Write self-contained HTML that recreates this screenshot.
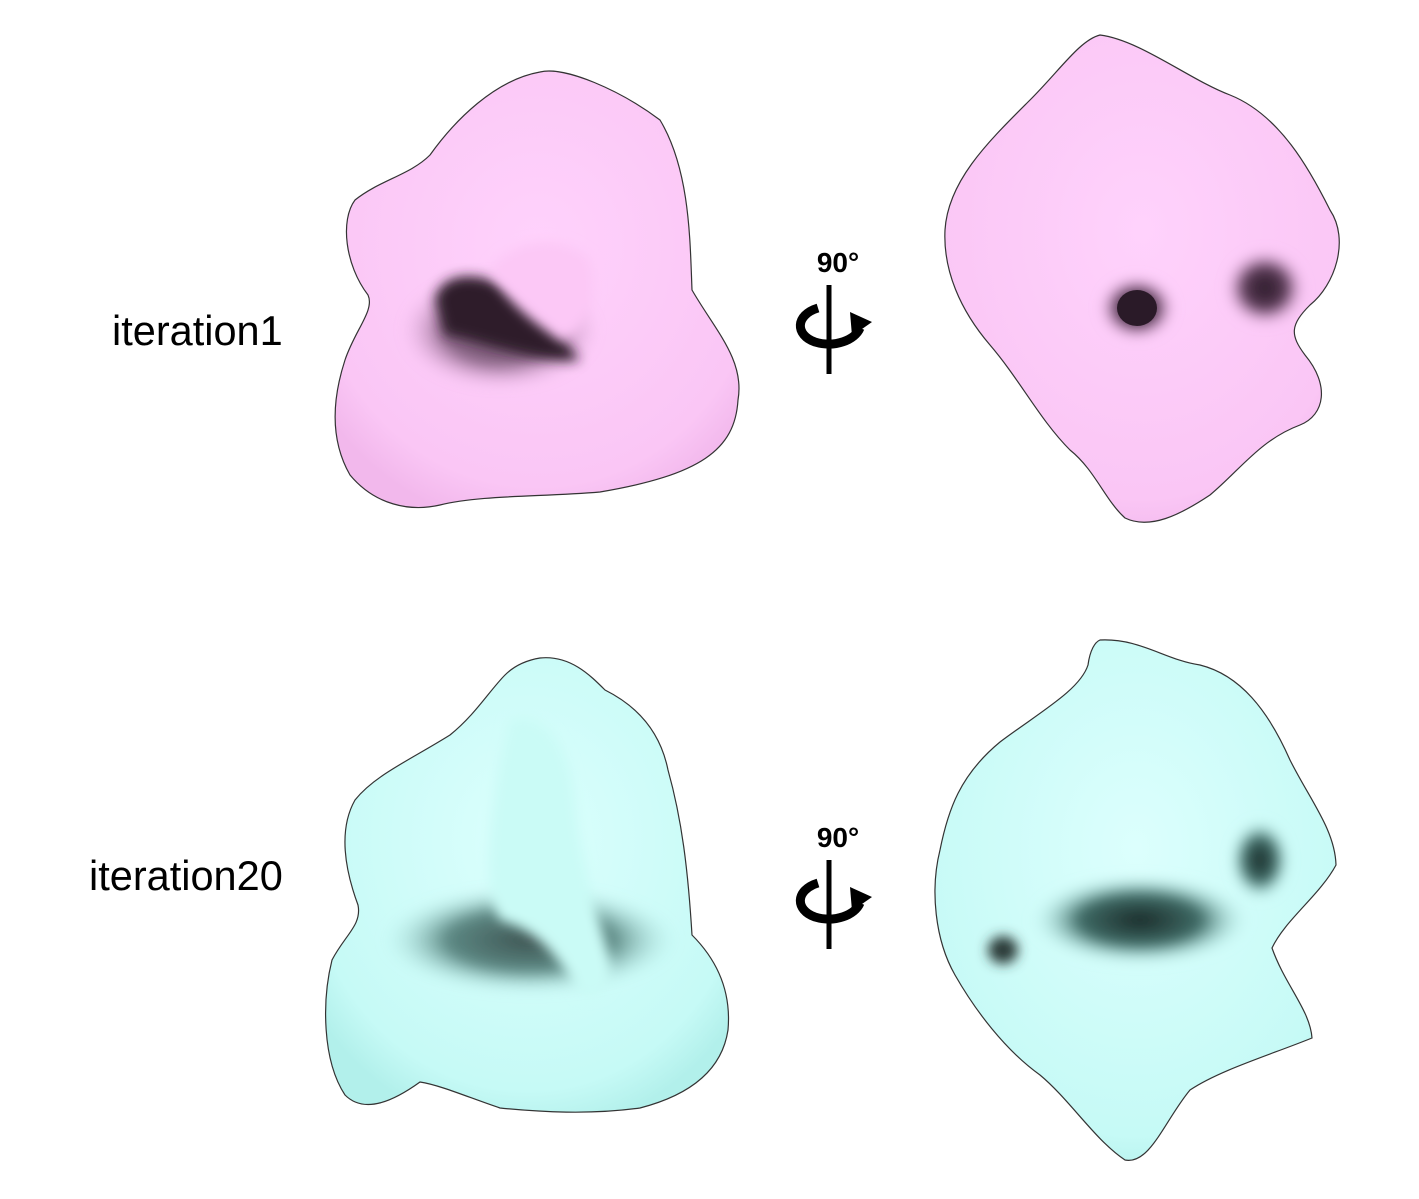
<!DOCTYPE html>
<html>
<head>
<meta charset="utf-8">
<style>
  html,body{margin:0;padding:0;background:#fff;}
  body{width:1419px;height:1199px;overflow:hidden;position:relative;font-family:"Liberation Sans",sans-serif;}
  .label{position:absolute;font-size:41.5px;color:#000;}
</style>
</head>
<body>
<svg width="1419" height="1199" viewBox="0 0 1419 1199" xmlns="http://www.w3.org/2000/svg" style="position:absolute;left:0;top:0">
  <defs>
    <radialGradient id="pinkG" cx="50%" cy="40%" r="65%">
      <stop offset="0%" stop-color="#ffd2fc"/>
      <stop offset="85%" stop-color="#fac6f5"/>
      <stop offset="100%" stop-color="#f2b8ec"/>
    </radialGradient>
    <radialGradient id="cyanG" cx="50%" cy="40%" r="65%">
      <stop offset="0%" stop-color="#dcfffd"/>
      <stop offset="85%" stop-color="#c6faf6"/>
      <stop offset="100%" stop-color="#b2f0eb"/>
    </radialGradient>
    <radialGradient id="darkP" cx="50%" cy="50%" r="50%">
      <stop offset="0%" stop-color="#2a1a28"/>
      <stop offset="55%" stop-color="#5a3a56"/>
      <stop offset="100%" stop-color="#f0b8ea" stop-opacity="0"/>
    </radialGradient>
    <radialGradient id="darkC" cx="50%" cy="50%" r="50%">
      <stop offset="0%" stop-color="#1a2a28"/>
      <stop offset="55%" stop-color="#3f6b66"/>
      <stop offset="100%" stop-color="#bff7f2" stop-opacity="0"/>
    </radialGradient>
    <filter id="blur" x="-50%" y="-50%" width="200%" height="200%"><feGaussianBlur stdDeviation="6"/></filter>
  </defs>

  <g>
    <path d="M540,72 C565,66 620,90 660,120 C690,170 690,240 692,290 C715,330 745,360 738,400 C735,450 700,475 600,492 C540,497 480,495 440,505 C410,512 375,505 350,475 C330,440 332,400 345,360 C355,330 375,310 368,295 C345,265 340,220 355,200 C380,180 410,175 430,155 C455,120 495,80 540,72 Z" fill="url(#pinkG)" stroke="#333" stroke-width="1.2"/>
    <ellipse cx="500" cy="330" rx="100" ry="60" fill="url(#darkP)" filter="url(#blur)" opacity="0.7"/>
    <path d="M435,300 C440,275 470,270 500,285 C530,300 560,335 580,360 C540,365 480,340 445,335 Z" fill="#2e1c2c" filter="url(#blur)"/>
    <path d="M490,270 C510,240 560,230 590,260 C600,300 585,340 560,340 C530,320 505,300 490,270 Z" fill="#fcc8f6" filter="url(#blur)"/>
  </g>

  <g>
    <path d="M1100,35 C1140,40 1190,80 1230,95 C1280,115 1310,170 1330,210 C1350,240 1335,285 1310,305 C1290,325 1290,335 1305,355 C1330,385 1325,415 1300,425 C1260,440 1240,470 1210,495 C1180,515 1150,530 1125,518 C1105,500 1095,470 1070,450 C1040,420 1020,380 990,345 C960,310 943,270 945,230 C948,180 990,140 1030,100 C1060,70 1080,40 1100,35 Z" fill="url(#pinkG)" stroke="#333" stroke-width="1.2"/>
    <ellipse cx="1137" cy="308" rx="38" ry="32" fill="url(#darkP)" filter="url(#blur)"/>
    <ellipse cx="1137" cy="308" rx="20" ry="18" fill="#2a1a28"/>
    <ellipse cx="1265" cy="288" rx="40" ry="38" fill="url(#darkP)" filter="url(#blur)"/>
  </g>

  <g>
    <path d="M540,658 C570,655 590,675 605,690 C635,705 660,730 668,770 C682,820 688,870 692,935 C712,955 732,985 728,1030 C722,1070 690,1095 640,1108 C590,1115 540,1112 500,1108 C470,1098 440,1085 420,1082 C395,1100 365,1115 345,1095 C322,1060 322,1000 332,960 C345,935 362,925 358,905 C345,870 338,830 355,800 C375,775 410,760 450,735 C475,715 490,690 505,675 C515,665 528,660 540,658 Z" fill="url(#cyanG)" stroke="#333" stroke-width="1.2"/>
    <ellipse cx="530" cy="940" rx="150" ry="55" fill="url(#darkC)" filter="url(#blur)" opacity="0.8"/>
    <path d="M510,720 C540,710 570,740 575,800 C580,860 600,920 610,960 C615,990 600,1000 580,995 C560,960 540,930 500,920 C480,880 490,820 500,760 Z" fill="#cafbf6" filter="url(#blur)"/>
  </g>

  <g>
    <path d="M1100,640 C1140,638 1165,660 1200,665 C1240,675 1268,710 1290,760 C1310,800 1335,830 1336,865 C1320,895 1285,920 1272,948 C1285,985 1310,1010 1312,1038 C1270,1055 1220,1070 1190,1090 C1165,1120 1150,1165 1125,1160 C1095,1140 1070,1100 1040,1075 C1005,1050 975,1010 955,975 C935,940 930,890 940,850 C948,810 960,775 1000,742 C1040,712 1080,690 1088,665 C1090,650 1095,642 1100,640 Z" fill="url(#cyanG)" stroke="#333" stroke-width="1.2"/>
    <ellipse cx="1140" cy="920" rx="110" ry="45" fill="url(#darkC)" filter="url(#blur)"/>
    <ellipse cx="1260" cy="860" rx="30" ry="40" fill="url(#darkC)" filter="url(#blur)"/>
    <ellipse cx="1003" cy="950" rx="15" ry="14" fill="#2a3a38" filter="url(#blur)"/>
  </g>

  <g>
    <text x="838" y="272" font-family="Liberation Sans, sans-serif" font-weight="bold" font-size="28" text-anchor="middle">90°</text>
    <line x1="829" y1="285" x2="829" y2="374" stroke="#000" stroke-width="5"/>
    <path d="M818,308 C795,315 795,335 815,342 C835,348 855,340 860,328" fill="none" stroke="#000" stroke-width="9"/>
    <polygon points="850,312 872,322 852,336" fill="#000"/>
  </g>
  <g>
    <text x="838" y="847" font-family="Liberation Sans, sans-serif" font-weight="bold" font-size="28" text-anchor="middle">90°</text>
    <line x1="829" y1="860" x2="829" y2="949" stroke="#000" stroke-width="5"/>
    <path d="M818,883 C795,890 795,910 815,917 C835,923 855,915 860,903" fill="none" stroke="#000" stroke-width="9"/>
    <polygon points="850,887 872,897 852,911" fill="#000"/>
  </g>
</svg>
<div class="label" style="left:112px;top:307px;">iteration1</div>
<div class="label" style="left:89px;top:852px;">iteration20</div>
</body>
</html>
